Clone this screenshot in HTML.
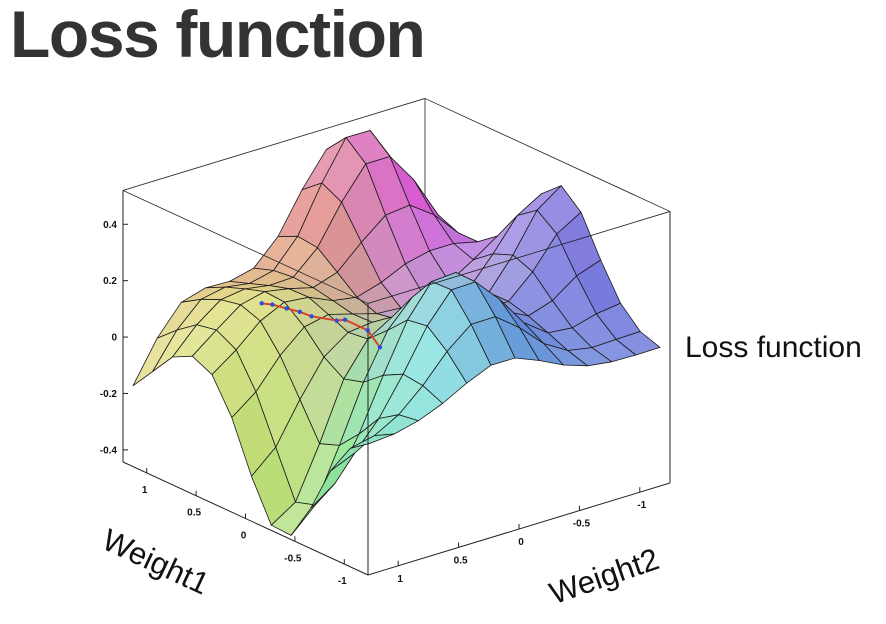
<!DOCTYPE html>
<html><head><meta charset="utf-8">
<style>
html,body{margin:0;padding:0;background:#fff;}
body{width:886px;height:624px;position:relative;overflow:hidden;font-family:"Liberation Sans",sans-serif;}
#title{position:absolute;left:10px;top:-4px;font-size:66px;font-weight:bold;color:#333;letter-spacing:-1.4px;white-space:nowrap;}
#zlabel{position:absolute;left:685px;top:331px;font-size:30px;color:#111;white-space:nowrap;}
.axt{position:absolute;font-size:31px;color:#111;white-space:nowrap;transform-origin:0 0;}
</style></head><body>
<div id="title">Loss function</div>
<div id="zlabel">Loss function</div>
<div class="axt" style="left:112px;top:522px;transform:rotate(25deg);">Weight1</div>
<div class="axt" style="left:545px;top:578px;transform:rotate(-19deg);">Weight2</div>
<svg id="plot" width="886" height="624" style="position:absolute;left:0;top:0"></svg>
<script>
// grid axes (rows = Weight1, cols = Weight2)
const w1Values = [-1.2,-1.0,-0.8,-0.6,-0.4,-0.2,0,0.2,0.4,0.6,0.8,1.0,1.2];
const w2Values = [-1.2,-1.0,-0.8,-0.6,-0.4,-0.2,0,0.2,0.4,0.6,0.8,1.0,1.2];
const lossRowM12 = [0.038,0.037,0.039,0.051,0.080,0.122,0.157,0.157,0.120,0.074,0.039,0.018,0.011];
const lossRowM10 = [0.062,0.060,0.057,0.073,0.124,0.206,0.271,0.270,0.200,0.105,0.028,-0.020,-0.039];
const lossRowM08 = [0.130,0.118,0.095,0.103,0.165,0.274,0.362,0.360,0.258,0.113,-0.018,-0.114,-0.151];
const lossRowM06 = [0.251,0.221,0.159,0.131,0.174,0.276,0.363,0.357,0.247,0.077,-0.105,-0.254,-0.316];
const lossRowM04 = [0.388,0.337,0.229,0.150,0.150,0.212,0.274,0.268,0.178,0.020,-0.178,-0.363,-0.445];
const lossRowM02 = [0.450,0.389,0.256,0.149,0.112,0.133,0.165,0.167,0.115,-0.001,-0.204,-0.385,-0.441];
const lossRow00  = [0.389,0.338,0.228,0.131,0.087,0.085,0.101,0.116,0.106,0.045,-0.080,-0.223,-0.300];
const lossRowP02 = [0.257,0.233,0.175,0.122,0.092,0.082,0.088,0.113,0.137,0.119,0.044,-0.059,-0.124];
const lossRowP04 = [0.147,0.180,0.200,0.200,0.180,0.140,0.114,0.128,0.166,0.175,0.134,0.058,-0.004];
const lossRowP06 = [0.101,0.180,0.270,0.330,0.320,0.250,0.170,0.142,0.164,0.180,0.159,0.096,0.029];
const lossRowP08 = [0.100,0.210,0.360,0.470,0.470,0.360,0.225,0.146,0.143,0.157,0.145,0.082,-0.006];
const lossRowP10 = [0.104,0.222,0.393,0.530,0.531,0.396,0.233,0.138,0.118,0.131,0.114,0.031,-0.090];
const lossRowP12 = [0.092,0.193,0.339,0.456,0.456,0.340,0.200,0.114,0.093,0.096,0.071,-0.030,-0.173];
const lossGrid = [lossRowM12,lossRowM10,lossRowM08,lossRowM06,lossRowM04,lossRowM02,lossRow00,lossRowP02,lossRowP04,lossRowP06,lossRowP08,lossRowP10,lossRowP12];
// gradient descent path
const pathW1 = [0.68,0.62,0.55,0.49,0.42,0.30,0.24,0.12,0.07];
const pathW2 = [0.56,0.52,0.46,0.40,0.36,0.25,0.23,0.14,0.08];
const pathZ  = [0.12,0.12,0.11,0.10,0.09,0.08,0.09,0.06,0.00];
// ticks
const zTicks = [0.4,0.2,0,-0.2,-0.4];
const zTickLabels = ["0.4","0.2","0","-0.2","-0.4"];
const w1Ticks = [1,0.5,0,-0.5,-1];
const w1TickLabels = ["1","0.5","0","-0.5","-1"];
const w2Ticks = [1,0.5,0,-0.5,-1];
const w2TickLabels = ["1","0.5","0","-0.5","-1"];

const NS="http://www.w3.org/2000/svg";
const svg=document.getElementById('plot');
const FX=368, FY=575, SX=-245, SY=-113, TX=302, TY=-92, ZS=282, ZMIN=-0.443, ZMAX=0.52;
const W1MIN=-1.24, W1MAX=1.24, W2MIN=-1.25, W2MAX=1.25;
function sOf(w1){return (w1-W1MIN)/(W1MAX-W1MIN);}
function tOf(w2){return (W2MAX-w2)/(W2MAX-W2MIN);}
function proj(w1,w2,z){const s=sOf(w1),t=tOf(w2);return [FX+SX*s+TX*t, FY+SY*s+TY*t-(z-ZMIN)*ZS];}
function projST(s,t,z){return [FX+SX*s+TX*t, FY+SY*s+TY*t-(z-ZMIN)*ZS];}
function mk(tag,attrs,parent){const e=document.createElementNS(NS,tag);for(const k in attrs)e.setAttribute(k,attrs[k]);(parent||svg).appendChild(e);return e;}
function line(a,b,name,w){const e=mk('line',{x1:a[0],y1:a[1],x2:b[0],y2:b[1],stroke:'#222','stroke-width':w||1});

return e;}
// colour styling: hue by angle in weight plane
const hueAng=[0,42,104,135,172,260,333,360], hueVal=[15,55,85,160,205,250,320,375];
function hueFor(a){for(let k=0;k<hueAng.length-1;k++){if(a<=hueAng[k+1]){const f=(a-hueAng[k])/(hueAng[k+1]-hueAng[k]);return (hueVal[k]+f*(hueVal[k+1]-hueVal[k]))%360;}}return 15;}
const LB=projST(1,0,ZMIN),LT=projST(1,0,ZMAX),BB=projST(1,1,ZMIN),BT=projST(1,1,ZMAX),RB=projST(0,1,ZMIN),RT=projST(0,1,ZMAX),FB=projST(0,0,ZMIN),FT=projST(0,0,ZMAX);
line(LT,BT,'box-back-left-edge',0.8);line(BT,RT,'box-back-right-edge',0.8);line(BB,BT,'box-back-vertical-edge',0.8);
const quads=[];
for(let i=0;i<w1Values.length-1;i++)for(let j=0;j<w2Values.length-1;j++){
  const c=[[i,j],[i+1,j],[i+1,j+1],[i,j+1]];
  const pts=c.map(([a,b])=>proj(w1Values[a],w2Values[b],lossGrid[a][b]));
  const cw1=(w1Values[i]+w1Values[i+1])/2,cw2=(w2Values[j]+w2Values[j+1])/2;
  const dzdx=((lossGrid[i+1][j]-lossGrid[i][j])+(lossGrid[i+1][j+1]-lossGrid[i][j+1]))/2/(w1Values[i+1]-w1Values[i]);
  const dzdy=((lossGrid[i][j+1]-lossGrid[i][j])+(lossGrid[i+1][j+1]-lossGrid[i+1][j]))/2/(w2Values[j+1]-w2Values[j]);
  let nx=-dzdx,ny=-dzdy,nz=1;const nl=Math.hypot(nx,ny,nz);nx/=nl;ny/=nl;nz/=nl;
  let lx=0.2,ly=0.6,lz=0.8;const ll=Math.hypot(lx,ly,lz);
  const dot=(nx*lx+ny*ly+nz*lz)/ll;
  let ang=Math.atan2(cw2,cw1)*180/Math.PI;ang=(ang+360)%360;
  const r=Math.min(1,Math.hypot(cw1,cw2)/0.9);
  const sat=15+45*r, light=52+24*Math.max(0,dot);
  quads.push({pts,depth:sOf(cw1)+tOf(cw2),fill:`hsl(${hueFor(ang).toFixed(0)},${sat.toFixed(0)}%,${light.toFixed(0)}%)`});
}
quads.sort((a,b)=>b.depth-a.depth);
const g=mk('g',{});


quads.forEach(q=>{const p=mk('polygon',{points:q.pts.map(p=>p[0].toFixed(1)+','+p[1].toFixed(1)).join(' '),fill:q.fill,stroke:'#1a1a1a','stroke-width':0.8,'stroke-linejoin':'round'},g);

});
line(LT,FT,'box-top-left-edge',0.8);line(RT,FT,'box-top-right-edge',0.8);
line(LB,LT,'box-left-vertical-edge');line(RB,RT,'box-right-vertical-edge');line(FB,FT,'box-front-vertical-edge');
line(LB,FB,'weight1-axis-line');line(FB,RB,'weight2-axis-line');
const pp=pathW1.map((w,k)=>proj(w,pathW2[k],pathZ[k]));
const pl=mk('polyline',{points:pp.map(p=>p.join(',')).join(' '),fill:'none',stroke:'#d9432a','stroke-width':2});


pp.forEach(p=>{const c=mk('circle',{cx:p[0],cy:p[1],r:2.2,fill:'#2d4de0'});

});
zTicks.forEach((z,k)=>{const p=projST(1,0,z);
line([p[0],p[1]],[p[0]+5,p[1]],'z-tick');
const t=mk('text',{x:p[0]-6,y:p[1]+3.5,'text-anchor':'end','font-size':10,'font-weight':'bold','font-family':'Liberation Sans, sans-serif',fill:'#111'});
t.textContent=zTickLabels[k];

});
w1Ticks.forEach((w,k)=>{const p=projST(sOf(w),0,ZMIN);
line(p,[p[0],p[1]-5],'weight1-tick');
const t=mk('text',{x:p[0]-2,y:p[1]+20,'text-anchor':'middle','font-size':10,'font-weight':'bold','font-family':'Liberation Sans, sans-serif',fill:'#111'});
t.textContent=w1TickLabels[k];

});
w2Ticks.forEach((w,k)=>{const p=projST(0,tOf(w),ZMIN);
line(p,[p[0],p[1]-5],'weight2-tick');
const t=mk('text',{x:p[0]+2,y:p[1]+16,'text-anchor':'middle','font-size':10,'font-weight':'bold','font-family':'Liberation Sans, sans-serif',fill:'#111'});
t.textContent=w2TickLabels[k];

});
</script>
</body></html>
